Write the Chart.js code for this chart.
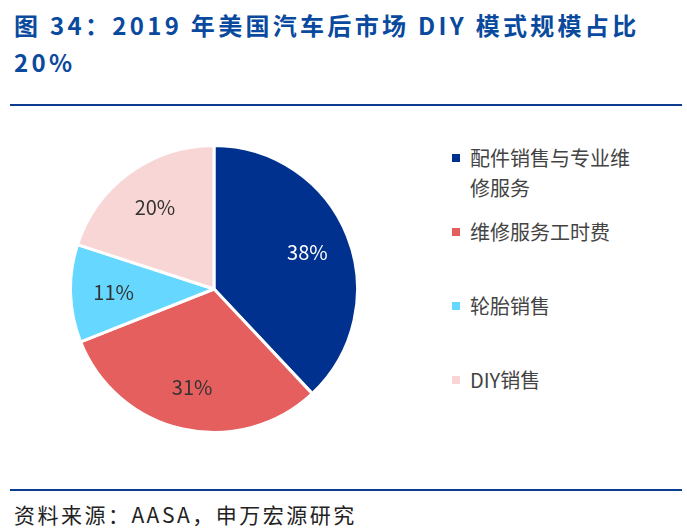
<!DOCTYPE html>
<html><head><meta charset="utf-8">
<script src="https://cdn.jsdelivr.net/npm/chart.js@4"></script>
<style>
body{margin:0;width:687px;height:532px;background:#fff;font-family:"Noto Sans CJK SC","Noto Sans",sans-serif;position:relative;overflow:hidden}
#title{position:absolute;left:14px;top:6px;width:680px;color:#0a4a9e;font-weight:bold;font-size:24px;letter-spacing:3.3px;line-height:37px;white-space:nowrap}
.rule{position:absolute;left:10px;width:672px;height:2px;background:#0a3d8f}
#src{position:absolute;left:14px;top:499px;font-size:21px;letter-spacing:2.5px;color:#222;white-space:nowrap}
#wrap{position:absolute;left:69px;top:144px;width:290px;height:290px}
#legend{position:absolute;left:452px;top:0;font-size:20px;color:#444}
.li{position:absolute;left:0;width:230px;line-height:30px}
.sw{position:absolute;left:0;top:11px;width:8px;height:8px}
.tx{margin-left:18px;display:block}
</style></head><body>
<div id="title">图 34：2019 年美国汽车后市场 DIY 模式规模占比<br>20%</div>
<div class="rule" style="top:104px"></div>
<div id="wrap"><canvas id="c"></canvas></div>
<div id="legend"></div>
<div class="rule" style="top:489px"></div>
<div id="src">资料来源：AASA，申万宏源研究</div>
<script>
const categories=["配件销售与专业维修服务","维修服务工时费","轮胎销售","DIY销售"];
const values=[38,31,11,20];
const colors=["#00318F","#E65F5F","#66D8FF","#F8D6D6"];
const labelColors=["#ffffff","#333333","#333333","#333333"];
const legendTops=[143,217,291,365];
const lg=document.getElementById('legend');
categories.forEach((c,i)=>{const d=document.createElement('div');d.className='li';d.style.top=legendTops[i]+'px';
d.innerHTML='<span class="sw" style="background:'+colors[i]+'"></span><span class="tx">'+(i==0?'配件销售与专业维<br>修服务':c)+'</span>';lg.appendChild(d);});
const lbl={id:'lbl',afterDatasetsDraw(ch){const ctx=ch.ctx;ch.getDatasetMeta(0).data.forEach((a,i)=>{
const m=(a.startAngle+a.endAngle)/2,r=a.outerRadius*0.7;ctx.save();ctx.font='20px "Noto Sans CJK SC","Noto Sans",sans-serif';
ctx.fillStyle=labelColors[i];ctx.textAlign='center';ctx.textBaseline='middle';ctx.fillText(values[i]+'%',a.x+Math.cos(m)*r,a.y+Math.sin(m)*r);ctx.restore();});}};
new Chart(document.getElementById('c'),{type:'pie',data:{labels:categories,datasets:[{data:values,backgroundColor:colors,borderColor:'#fff',borderWidth:3}]},
options:{responsive:true,maintainAspectRatio:false,animation:false,layout:{padding:0},plugins:{legend:{display:false},tooltip:{enabled:false}}},plugins:[lbl]});
</script></body></html>
